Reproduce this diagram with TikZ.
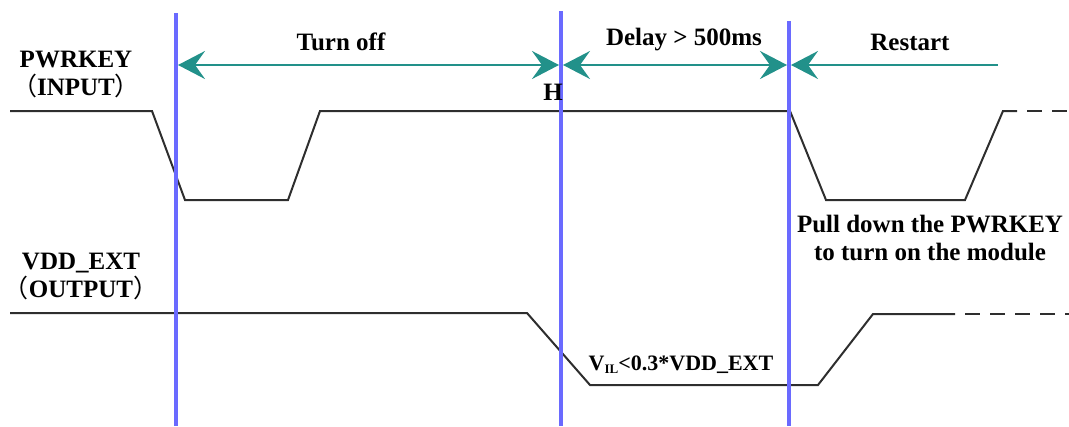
\documentclass[tikz,border=0pt]{standalone}
\usepackage{fontspec}
\setmainfont{Liberation Serif}
\newfontfamily\cjk{Noto Sans CJK SC}
\usetikzlibrary{arrows.meta,calc}
\definecolor{bleuRepere}{HTML}{6A6AFF}
\definecolor{sarcelle}{HTML}{22918A}
\definecolor{grisTrait}{HTML}{2E2E2E}
\tikzset{
  pointe/.tip={Stealth[length=27pt, width=28pt, inset=10pt]},
  repere/.style={draw=bleuRepere, line width=3.2pt},
  cote/.style={draw=sarcelle, line width=2.6pt, {pointe}-{pointe},
    shorten <=2pt, shorten >=2pt},
  coteSimple/.style={draw=sarcelle, line width=2.6pt, -{pointe}, shorten >=2pt},
  signal/.style={draw=grisTrait, line width=2pt, line join=miter},
  signalSuite/.style={signal, dash pattern=on 15pt off 10pt, dash phase=15pt},
  etiquette/.style={font=\fontsize{25}{28}\selectfont\bfseries, inner sep=0pt,
    align=center, anchor=base},
  etiquettePetite/.style={etiquette, font=\fontsize{22}{26}\selectfont\bfseries}
}

\begin{document}
\begin{tikzpicture}[x=1pt, y=-1pt]
  \useasboundingbox (0,0) rectangle (1069,426);

  % --- Signal PWRKEY (entree)
  \draw[signal] (10,111) -- (152,111) -- (185,200) -- (288,200) -- (320,111)
        -- (790,111) -- (826,200) -- (965,200) -- (1003,111) -- (1017,111);
  \draw[signalSuite] (1017,111) -- (1069,111);

  % --- Signal VDD_EXT (sortie)
  \draw[signal] (10,313) -- (527,313) -- (590,385) -- (818,385) -- (873,314)
        -- (955,314);
  \draw[signalSuite] (955,314) -- (1069,314);

  % --- Reperes verticaux
  \coordinate (R1h) at (176,13);  \coordinate (R1b) at (176,426);
  \coordinate (R2h) at (561,11);  \coordinate (R2b) at (561,426);
  \coordinate (R3h) at (789,21);  \coordinate (R3b) at (789,426);
  \draw[repere] (R1h) -- (R1b);
  \draw[repere] (R2h) -- (R2b);
  \draw[repere] (R3h) -- (R3b);

  % --- Cotes de temps
  \coordinate (C1) at (176,65);
  \coordinate (C2) at (561,65);
  \coordinate (C3) at (789,65);
  \coordinate (C4) at (998,65);
  \draw[cote] (C1) -- (C2);
  \draw[cote] (C2) -- (C3);
  \draw[coteSimple] (C4) -- (C3);

  % --- Etiquettes (ancre base = derniere ligne)
  \node[etiquette] (arret)    at (341,50)  {Turn off};
  \node[etiquette] (delai)    at (684,45)  {Delay > 500ms};
  \node[etiquette] (relance)  at (910,50)  {Restart};
  \node[etiquette] (haut)     at (553,100) {H};
  \node[etiquette] (entree)   at (76,95)   {PWRKEY\\{\cjk\mdseries （}INPUT{\cjk\mdseries ）}};
  \node[etiquette] (sortie)   at (81,297)  {VDD\_EXT\\{\cjk\mdseries （}OUTPUT{\cjk\mdseries ）}};
  \node[etiquette] (consigne) at (930,260) {Pull down the PWRKEY\\to turn on the module};
  \node[etiquettePetite] (seuil) at (681,370)
        {V\raisebox{-3pt}{\fontsize{13}{13}\selectfont IL}<0.3*VDD\_EXT};

\end{tikzpicture}
\end{document}
